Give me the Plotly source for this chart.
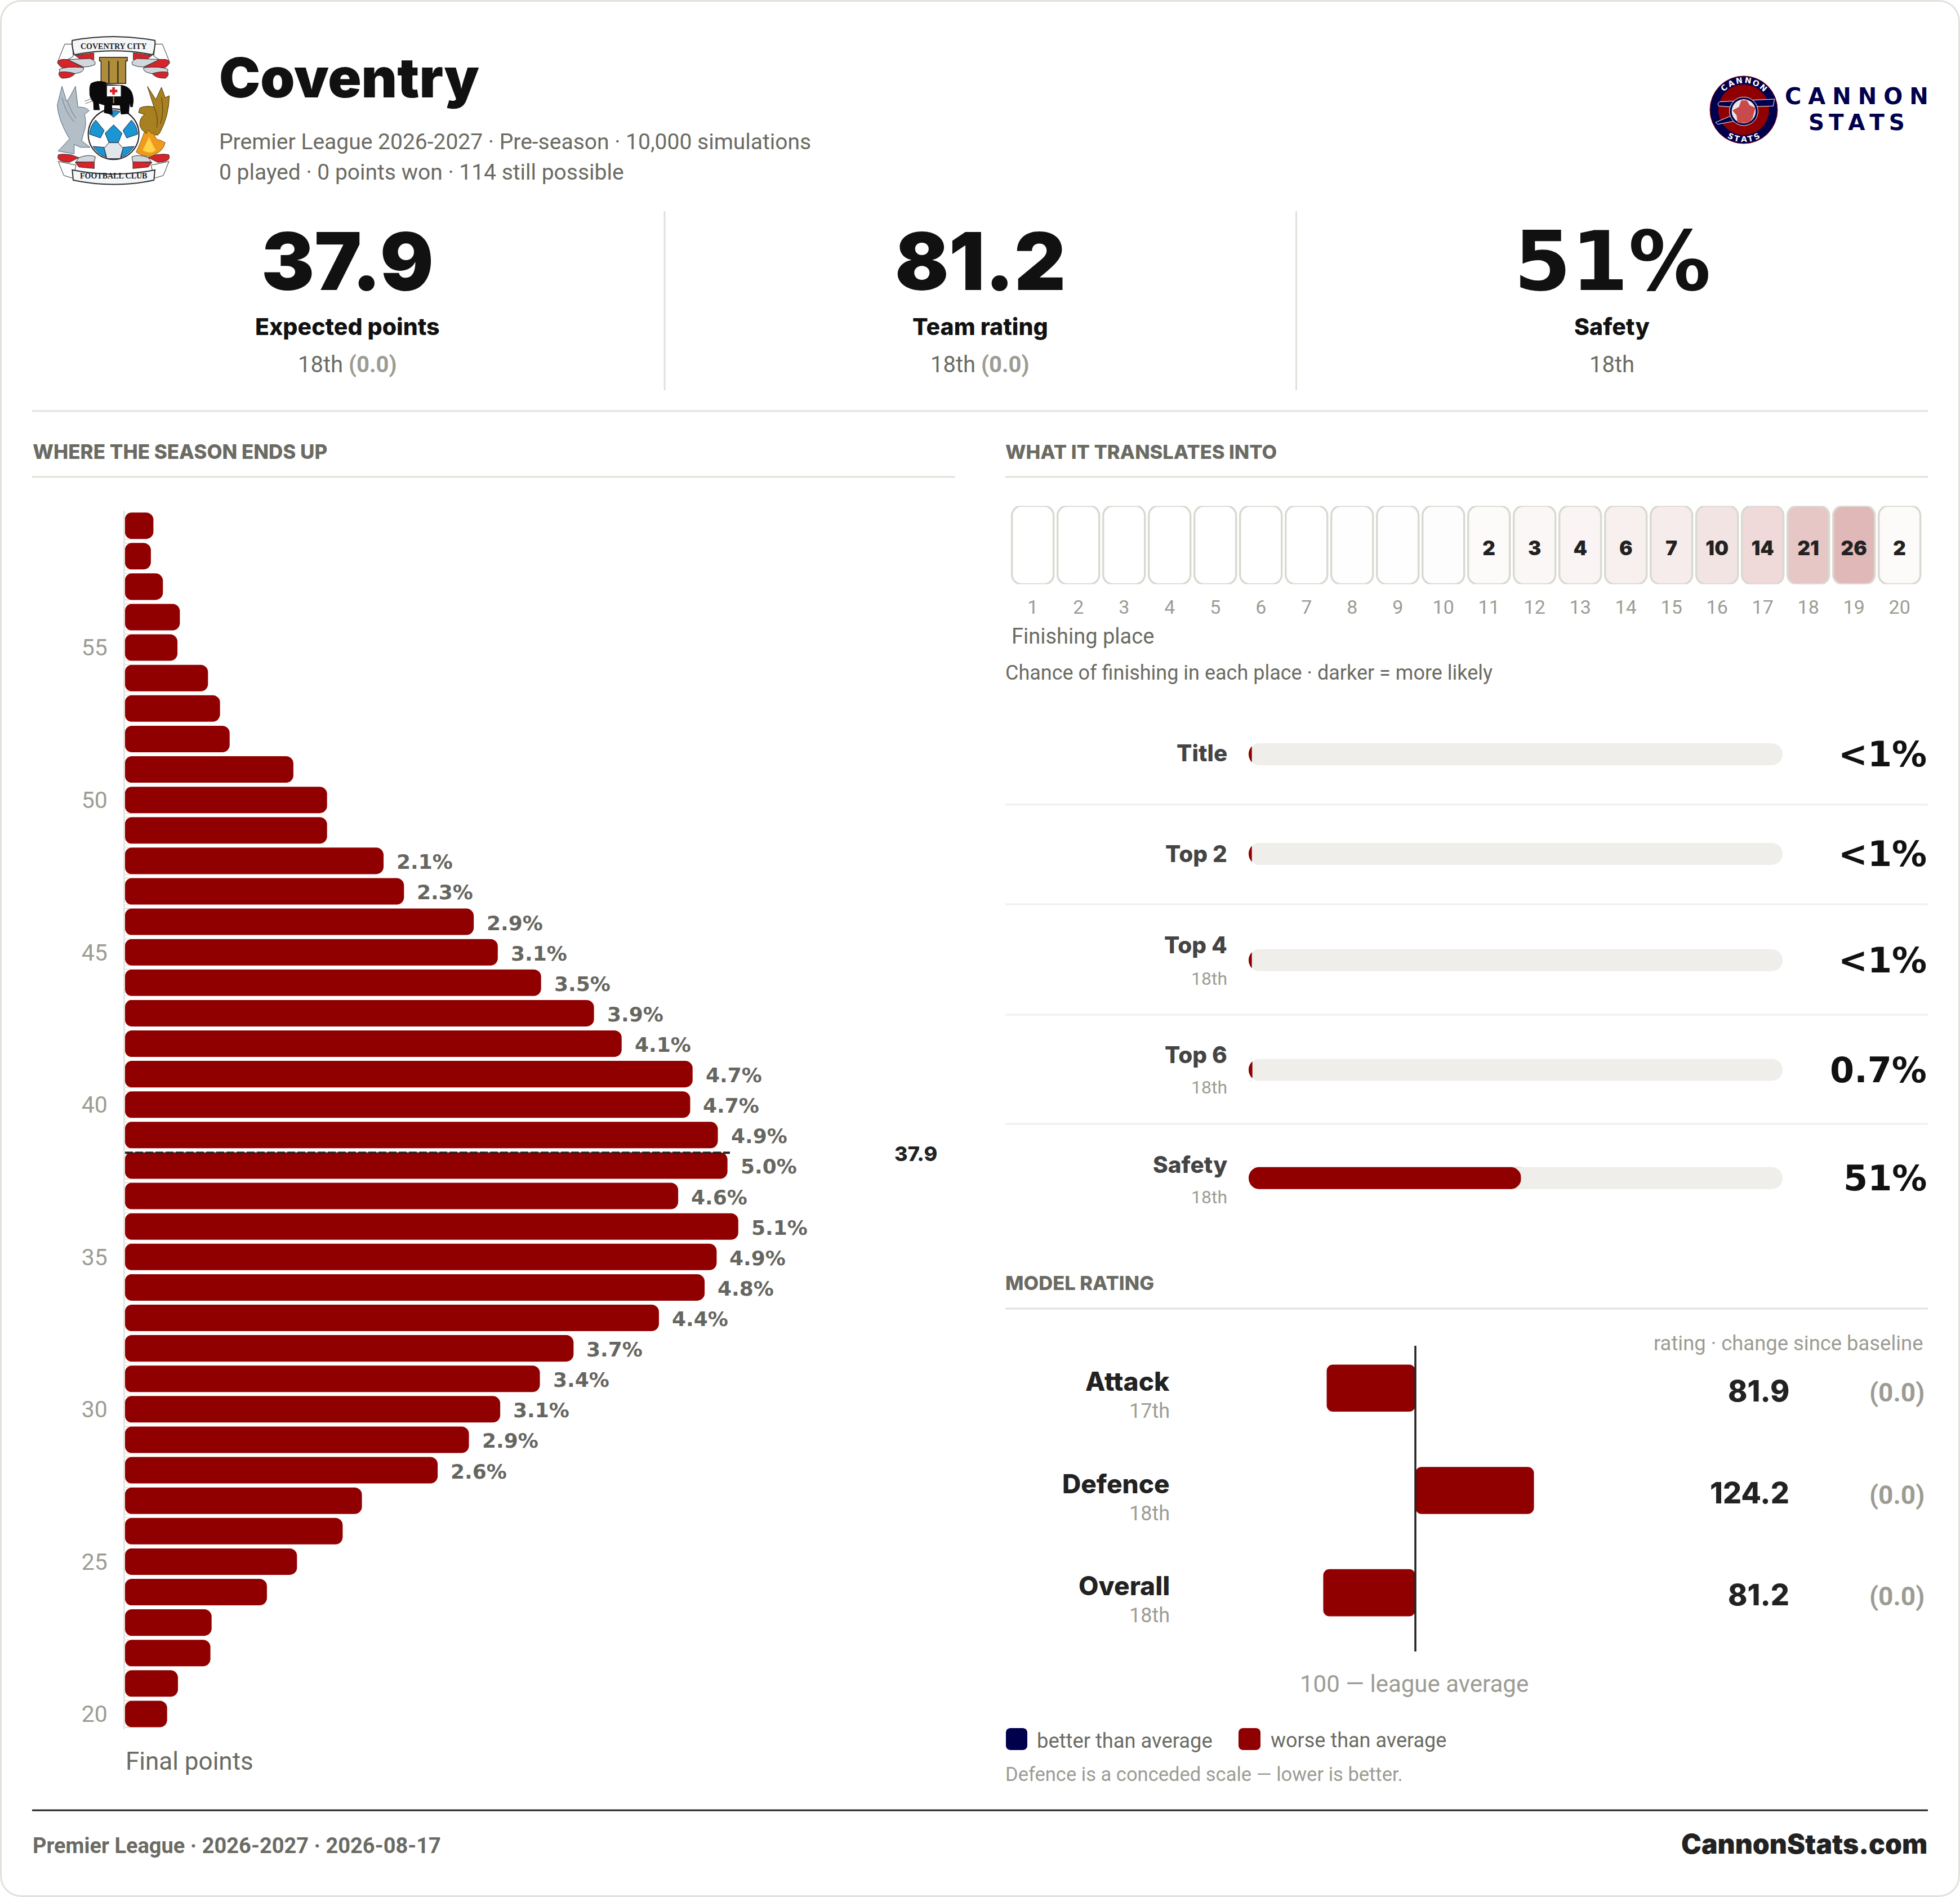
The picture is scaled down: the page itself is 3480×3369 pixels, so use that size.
import re
import math
import plotly.graph_objects as go

# ---------- data ----------
team = "Coventry"
points = list(range(59, 19, -1))
points_pct = [0.236, 0.215, 0.315, 0.456, 0.436, 0.69, 0.79, 0.87, 1.40, 1.68, 1.68, 2.15, 2.32, 2.90, 3.10, 3.46,
              3.90, 4.13, 4.72, 4.70, 4.93, 5.01, 4.60, 5.10, 4.92, 4.82, 4.44, 3.73, 3.45, 3.12, 2.86, 2.60,
              1.97, 1.81, 1.43, 1.18, 0.72, 0.71, 0.44, 0.35]
points_labels = [None] * 11 + ["2.1%", "2.3%", "2.9%", "3.1%", "3.5%", "3.9%", "4.1%", "4.7%", "4.7%", "4.9%", "5.0%",
                               "4.6%", "5.1%", "4.9%", "4.8%", "4.4%", "3.7%", "3.4%", "3.1%", "2.9%", "2.6%"] + [None] * 8
point_ticks = [20, 25, 30, 35, 40, 45, 50, 55]
expected_label = "37.9"

places = list(range(1, 21))
place_values = [0, 0, 0, 0, 0, 0, 0, 0.2, 0.4, 0.7, 2, 3, 4, 6, 7, 10, 14, 21, 26, 2]
place_labels = ["", "", "", "", "", "", "", "", "", "", "2", "3", "4", "6", "7", "10", "14", "21", "26", "2"]

prob_names = ["Title", "Top 2", "Top 4", "Top 6", "Safety"]
prob_ranks = ["", "", "18th", "18th", "18th"]
prob_values = [0.6, 0.6, 0.6, 0.7, 51]
prob_texts = ["<1%", "<1%", "<1%", "0.7%", "51%"]

rating_names = ["Attack", "Defence", "Overall"]
rating_ranks = ["17th", "18th", "18th"]
rating_values = [81.9, 124.2, 81.2]
rating_changes = ["(0.0)", "(0.0)", "(0.0)"]

stat_values = ["37.9", "81.2", "51%"]
stat_names = ["Expected points", "Team rating", "Safety"]
stat_subs = ["18th", "18th", "18th"]
stat_changes = ["(0.0)", "(0.0)", ""]

# ---------- layout constants ----------
W, H = 3480, 3369
HEAVY = "Inter"
WIDE = "DejaVu Sans"
BODY = "Roboto"
RED = "#910000"
NAVY = "#00004d"
INK = "#111111"
DARK = "#222222"
MID = "#6b6b63"
SOFT = "#9c9c94"
RULE = "#e2e2dc"
TRACK = "#efeeea"
mean_line_pos = 38.42

def px(x, y):
    return f"{x / W:.6f},{1 - y / H:.6f}"

def dom_x(a, b):
    return [a / W, b / W]

def dom_y(top, bottom):
    return [1 - bottom / H, 1 - top / H]

shapes = []
annotations = []

def T(x, y, text, size, color=MID, anchor="left", weight=400, family=BODY, angle=0):
    annotations.append(dict(xref="paper", yref="paper", x=x / W, y=1 - y / H, text=text, showarrow=False,
                            xanchor=anchor, yanchor="middle", textangle=angle, borderpad=0,
                            font=dict(family=family, size=size, color=color, weight=weight)))

def line(x0, y0, x1, y1, color=RULE, width=3):
    shapes.append(dict(type="line", xref="paper", yref="paper", x0=x0 / W, x1=x1 / W, y0=1 - y0 / H, y1=1 - y1 / H,
                       line=dict(color=color, width=width)))

def path(d, fill="rgba(0,0,0,0)", stroke=None, width=0, layer="above", ox=0, oy=0, s=1 / 3, mirror=None):
    def rep(m):
        x, y = float(m.group(1)), float(m.group(2))
        if mirror is not None:
            x = mirror - x
        return px(ox + x * s, oy + y * s)
    shapes.append(dict(type="path", xref="paper", yref="paper", layer=layer,
                       path=re.sub(r"(-?\d+(?:\.\d+)?),(-?\d+(?:\.\d+)?)", rep, d), fillcolor=fill,
                       line=dict(color=stroke if stroke else "rgba(0,0,0,0)", width=width)))

def rrect(x0, y0, x1, y1, r):
    k = r * 0.45
    return (f"M{x0 + r},{y0} L{x1 - r},{y0} C{x1 - k},{y0} {x1},{y0 + k} {x1},{y0 + r} L{x1},{y1 - r} "
            f"C{x1},{y1 - k} {x1 - k},{y1} {x1 - r},{y1} L{x0 + r},{y1} C{x0 + k},{y1} {x0},{y1 - k} {x0},{y1 - r} "
            f"L{x0},{y0 + r} C{x0},{y0 + k} {x0 + k},{y0} {x0 + r},{y0} Z")

def corner_masks(x, top, bottom, r, side=1):
    """corner wedges: side=1 rounds the left end of a bar starting at x, side=-1 the right end"""
    k = r * 0.45
    s = side
    return (f"M{x},{top} L{x + s * r},{top} C{x + s * k},{top} {x},{top + k} {x},{top + r} Z "
            f"M{x},{bottom} L{x + s * r},{bottom} C{x + s * k},{bottom} {x},{bottom - k} {x},{bottom - r} Z ")

# ---------- card ----------
path(rrect(1.5, 1.5, W - 1.5, H - 1.5, 36), fill="#ffffff", stroke=RULE, width=3, layer="below", s=1)

# ---------- header ----------
T(388, 138, team, 98, INK, weight=900, family=HEAVY)
T(388, 252, "Premier League 2026-2027 · Pre-season · 10,000 simulations", 39, MID)
T(388, 306, "0 played · 0 points won · 114 still possible", 39, MID)

# crest (drawn as vector shapes)
cx, cy = 60, 40
def C(d, fill, stroke="#333333", width=1, mirror=None):
    path(d, fill=fill, stroke=stroke, width=width, ox=cx, oy=cy, mirror=mirror)
for m in (None, 850):
    C("M205,115 L165,115 L125,215 L135,225 L210,180 Z", "#ffffff", mirror=m)
    C("M130,740 L160,815 L210,830 L225,760 Z", "#ffffff", mirror=m)
    C("M220,175 L320,162 L320,198 L250,198 Z", "#d8232a", mirror=m)
    C("M180,197 L300,192 Q335,205 325,225 Q300,237 265,237 Z", "#cfd8dd", mirror=m)
    C("M130,205 Q140,193 180,197 L265,240 Q240,250 200,240 L150,240 Q125,225 130,205 Z", "#d8232a", mirror=m)
    C("M135,250 Q170,232 265,240 Q272,265 220,272 L140,268 Z", "#cfd8dd", mirror=m)
    C("M135,265 Q175,258 220,272 Q200,298 150,297 Q128,285 135,265 Z", "#d8232a", mirror=m)
    C("M240,720 Q290,700 328,715 L322,745 L225,742 Z", "#cfd8dd", mirror=m)
    C("M130,705 Q150,698 200,705 L240,720 L190,745 Q130,742 128,720 Z", "#d8232a", mirror=m)
    C("M220,745 L322,742 L322,778 L240,770 Z", "#d8232a", mirror=m)
C("M205,95 Q425,55 645,95 C650,120 640,150 635,172 Q425,130 215,172 C210,150 200,120 205,95 Z", "#f4f6f7", width=2)
C("M205,785 Q425,830 645,785 L640,840 Q425,885 210,840 Z", "#f4f6f7", width=2)
C("M350,185 L498,185 L498,205 L490,205 L490,325 L358,325 L358,205 L350,205 Z", "#b08d3a", "#222222", 1.5)
C("M400,205 L400,325 M448,205 L448,325", "rgba(0,0,0,0)", "#222222", 2)
C("M150,340 L175,420 L190,400 L222,340 L235,450 Q280,450 295,470 L270,490 Q285,540 265,590 L255,630 L300,665 L250,665 "
  "L215,650 L215,700 L130,685 L190,620 Q130,520 125,440 Z", "#b3bec6", "#556677", 1)
C("M605,340 L650,410 L680,345 L700,400 L722,390 Q720,500 670,590 L660,600 Q580,600 565,550 Q560,510 590,490 L558,480 "
  "L565,455 Q600,440 640,450 Z", "#a9801f", "#4a3a10", 1)
C("M150,400 Q170,480 215,530 M180,420 Q195,470 225,510", "rgba(0,0,0,0)", "#667788", 1)
C("M640,450 Q665,500 655,560 M680,400 Q695,470 675,540", "rgba(0,0,0,0)", "#4a3a10", 1)
C("M545,690 Q570,640 590,580 Q600,610 610,570 Q625,600 640,590 Q650,630 670,625 L700,640 Q690,690 620,715 Q570,710 545,690 Z",
  "#ee9a1c", "#8a5a10", 1)
C("M580,680 Q600,640 615,610 Q630,650 650,680 Q620,705 580,680 Z", "#ffd34a", None, 0)
shapes.append(dict(type="circle", xref="paper", yref="paper", layer="above",
                   x0=(cx + 290 / 3) / W, x1=(cx + 560 / 3) / W, y0=1 - (cy + 730 / 3) / H, y1=1 - (cy + 460 / 3) / H,
                   fillcolor="#ffffff", line=dict(color="#222222", width=2)))
BLUE = "#1a96d4"
C("M425,545 L470,590 L450,640 L400,640 L380,590 Z", BLUE, "#222233", 1)
C("M395,480 Q425,460 460,475 L425,505 Z", BLUE, "#222233", 1)
C("M330,520 L375,575 L355,615 L297,595 Q300,550 330,520 Z", BLUE, "#222233", 1)
C("M520,520 L475,575 L495,615 L553,595 Q550,550 520,520 Z", BLUE, "#222233", 1)
C("M315,660 L375,665 L385,718 Q340,700 315,660 Z", BLUE, "#222233", 1)
C("M535,660 L475,665 L465,718 Q510,700 535,660 Z", BLUE, "#222233", 1)
C("M400,640 L450,640 L475,670 L460,725 L390,725 L375,670 Z", "#e0e6ea", "#222233", 1)
C("M305,325 Q340,305 385,320 L385,330 L470,335 Q530,345 530,420 L525,450 L515,448 L510,420 L505,485 L465,488 L460,440 "
  "L415,440 L418,490 L375,480 L378,440 L345,430 L350,465 L320,465 L318,425 Q296,400 298,370 Q296,340 305,325 Z",
  "#0a0a0a", "#000000", 1)
C("M270,420 L310,405 M275,432 L315,418", "rgba(0,0,0,0)", "#666666", 1)
C("M388,335 L465,335 L465,395 L388,395 Z", "#ffffff", "#222222", 1)
C("M425,395 L425,430", "rgba(0,0,0,0)", "#b08d3a", 2)
C("M418,345 L432,345 L432,358 L445,358 L445,372 L432,372 L432,385 L418,385 L418,372 L405,372 L405,358 L418,358 Z", "#d8232a", None, 0)
T(cx + 425 / 3, cy + 127 / 3, "<b>COVENTRY CITY</b>", 14, "#222222", "center", family="Liberation Serif")
T(cx + 425 / 3, cy + 818 / 3, "<b>FOOTBALL CLUB</b>", 14, "#222222", "center", family="Liberation Serif")

# Cannon Stats logo
lx, ly = 3000, 110
def L(d, fill, stroke=None, width=0):
    path(d, fill=fill, stroke=stroke, width=width, ox=lx, oy=ly)
def disc(zx, zy, zr, fill, stroke=None, width=0):
    shapes.append(dict(type="circle", xref="paper", yref="paper", layer="above",
                       x0=(lx + (zx - zr) / 3) / W, x1=(lx + (zx + zr) / 3) / W,
                       y0=1 - (ly + (zy + zr) / 3) / H, y1=1 - (ly + (zy - zr) / 3) / H,
                       fillcolor=fill, line=dict(color=stroke or "rgba(0,0,0,0)", width=width)))
disc(288, 255, 180, NAVY, RED, 1)
disc(288, 255, 135, RED)
L("M160,212 L452,198 L445,235 L340,238 L230,240 L155,235 Q145,222 160,212 Z", NAVY, "#ffffff", 1)
L("M138,322 L225,285 L240,315 L150,332 Z", NAVY, "#ffffff", 1)
disc(288, 263, 76, NAVY, "#ffffff", 1)
disc(288, 263, 64, "#e8e8ea")
L("M275,205 L305,205 L320,230 L350,245 L335,300 L315,325 L255,325 L250,285 L228,258 L262,240 Z", "#c94a4a")
for letters, zr, a0, a1 in (("CANNON", 157, -42, 42), ("STATS", 157, 26, -26)):
    n = len(letters)
    for i, ch in enumerate(letters):
        a = a0 + (a1 - a0) * i / (n - 1)
        if a0 < 0:
            zx, zy = 288 + zr * math.sin(math.radians(a)), 255 - zr * math.cos(math.radians(a))
            rot = a
        else:
            zx, zy = 288 + zr * math.sin(math.radians(a)), 255 + zr * math.cos(math.radians(a))
            rot = -a
        T(lx + zx / 3, ly + zy / 3, ch, 14, "#ffffff", "center", 700, WIDE, rot)
T(3296.7, 171, "\u200a\u2009".join("CANNON"), 40, NAVY, "center", 700, WIDE)
T(3296.7, 217, "\u2009".join("STATS"), 39, NAVY, "center", 700, WIDE)

# ---------- headline stats ----------
line(1180, 375, 1180, 693)
line(2301.5, 375, 2301.5, 693)
line(57, 730, 3423, 730)
for xc, v, n, s, c in zip((617, 1740, 2862), stat_values, stat_names, stat_subs, stat_changes):
    if "%" in v:
        T(xc, 464, v, 146, INK, "center", 700, WIDE)
    else:
        T(xc, 464, v, 141, INK, "center", 900, HEAVY)
    T(xc, 580, n, 41, INK, "center", 800, HEAVY)
    extra = f' <b style="color:{SOFT}">{c}</b>' if c else ""
    T(xc, 647, s + extra, 40, MID, "center")

# ---------- section heads ----------
T(57, 802, "WHERE THE SEASON ENDS UP", 35, MID, weight=800, family=HEAVY)
T(1784, 802, "WHAT IT TRANSLATES INTO", 34.5, MID, weight=800, family=HEAVY)
line(57, 847, 1696, 847)
line(1785, 847, 3423, 847)
T(1784, 2278, "MODEL RATING", 34.5, MID, weight=800, family=HEAVY)
line(1785, 2324, 3423, 2324)

# ---------- histogram ----------
traces = []
traces.append(go.Bar(orientation="h", y=points, x=points_pct, width=0.869, marker=dict(color=RED, line=dict(width=0), cornerradius=13),
                     xaxis="x", yaxis="y", hoverinfo="skip", showlegend=False))
PITCH = 54.11
hist_mask = ""
for p in points:
    yc = 3044 - (p - 20) * PITCH
    hist_mask += corner_masks(222, yc - 23.6, yc + 23.6, 12)
path(hist_mask, fill="#ffffff", s=1)
for p, v, lab in zip(points, points_pct, points_labels):
    if lab:
        annotations.append(dict(xref="x", yref="y", x=v, y=p, text=lab, showarrow=False, xanchor="left", yanchor="middle",
                                xshift=22, yshift=-2, borderpad=0, font=dict(family=WIDE, size=36, color="#666660", weight=700)))
shapes.append(dict(type="line", xref="x", yref="y", x0=0, x1=5.03, y0=mean_line_pos, y1=mean_line_pos,
                   line=dict(color=DARK, width=4, dash="14px,4px")))
T(1626, 2049, expected_label, 36, DARK, "center", 800, HEAVY)
T(222, 3128, "Final points", 44, MID)

# ---------- finishing place ----------
CELL_PITCH = 81.0
cell_h_px = 138.7
rx, ry = 17 / CELL_PITCH, 17 / cell_h_px
half = 74 / CELL_PITCH / 2
for pl, v in zip(places, place_values):
    a = v * 1.07 / 100
    x0, x1 = pl - half, pl + half
    k = 0.45
    d = (f"M{x0 + rx:.4f},0 L{x1 - rx:.4f},0 C{x1 - k * rx:.4f},0 {x1:.4f},{k * ry:.4f} {x1:.4f},{ry:.4f} L{x1:.4f},{1 - ry:.4f} "
         f"C{x1:.4f},{1 - k * ry:.4f} {x1 - k * rx:.4f},1 {x1 - rx:.4f},1 L{x0 + rx:.4f},1 C{x0 + k * rx:.4f},1 {x0:.4f},{1 - k * ry:.4f} "
         f"{x0:.4f},{1 - ry:.4f} L{x0:.4f},{ry:.4f} C{x0:.4f},{k * ry:.4f} {x0 + k * rx:.4f},0 {x0 + rx:.4f},0 Z")
    shapes.append(dict(type="path", xref="x2", yref="y2", path=d, layer="below",
                       fillcolor=f"rgba(146,0,0,{a:.4f})", line=dict(color="#d9d9d2", width=3.5)))
traces.append(go.Scatter(x=places, y=[0.435] * 20, mode="text", text=place_labels, textposition="middle center",
                         textfont=dict(family=HEAVY, size=35, color=DARK, weight=900),
                         xaxis="x2", yaxis="y2", hoverinfo="skip", showlegend=False))
T(1795, 1130, "Finishing place", 38, MID)
T(1784, 1195, "Chance of finishing in each place · darker = more likely", 36, MID)

# ---------- probability bars ----------
prob_rows = [1339.5, 1516.5, 1705.3, 1900, 2092.3]
traces.append(go.Bar(orientation="h", y=prob_rows, x=[100] * 5, width=39, marker=dict(color=TRACK, line=dict(width=0), cornerradius=19.5),
                     xaxis="x3", yaxis="y3", hoverinfo="skip", showlegend=False))
traces.append(go.Bar(orientation="h", y=prob_rows, x=prob_values, width=39, marker=dict(color=RED, line=dict(width=0)),
                     xaxis="x3", yaxis="y3", hoverinfo="skip", showlegend=False))
pmask = ""
endmask = ""
for r, v in zip(prob_rows, prob_values):
    pmask += corner_masks(2217, r - 19.7, r + 19.7, 19.5)
    if v >= 5:
        endmask += corner_masks(2217 + 948 * v / 100 + 0.5, r - 19.7, r + 19.7, 19.5, -1)
path(endmask, fill=TRACK, s=1)
path(pmask, fill="#ffffff", s=1)
name_y = [1337, 1516, 1678, 1873, 2068]
rank_y = [None, None, 1738, 1931, 2126]
for nm, rk, ny, ry_, txt, r in zip(prob_names, prob_ranks, name_y, rank_y, prob_texts, prob_rows):
    T(2180, ny, nm, 40.5, "#444444", "right", 800, HEAVY)
    if rk:
        T(2180, ry_, rk, 32, SOFT, "right")
    T(3422, r, txt, 62, INK, "right", 700, WIDE)
for y in (1429, 1606, 1802, 1996):
    line(1785, y, 3423, y, "#efefec", 3)

# ---------- model rating ----------
rating_delta = [v - 100 for v in rating_values]
traces.append(go.Bar(orientation="h", y=rating_names, x=rating_delta, base=[100] * 3, width=0.46,
                     marker=dict(color=RED, line=dict(width=0), cornerradius=11),
                     xaxis="x4", yaxis="y4", hoverinfo="skip", showlegend=False))
shapes.append(dict(type="line", xref="x4", yref="paper", x0=100, x1=100, y0=1 - 2390 / H, y1=1 - 2933 / H,
                   line=dict(color=DARK, width=3.5)))
T(3416, 2385, "rating · change since baseline", 36.4, SOFT, "right")
for nm, rk, ly_, sy, vy, cy_, v, c in zip(rating_names, rating_ranks, (2453, 2635, 2816), (2506, 2688, 2869),
                                          (2470, 2651, 2832), (2473, 2655, 2835), rating_values, rating_changes):
    T(2078, ly_, nm, 46, DARK, "right", 800, HEAVY)
    T(2078, sy, rk, 36, SOFT, "right")
    T(3178, vy, f"{v:.1f}", 52, DARK, "right", 800, HEAVY)
    T(3418, cy_, c, 46, SOFT, "right", 700)
T(2511, 2990, "100 — league average", 42, SOFT, "center")
path(rrect(1786, 3069, 1824, 3108, 8), fill=NAVY, s=1)
T(1840, 3091, "better than average", 36.3, MID)
path(rrect(2199, 3069, 2238, 3108, 8), fill=RED, s=1)
T(2255, 3091, "worse than average", 36, MID)
T(1784, 3151, "Defence is a conceded scale — lower is better.", 34.5, SOFT)

# ---------- footer ----------
line(57, 3215, 3423, 3215, DARK, 3)
T(57, 3278, "Premier League · 2026-2027 · 2026-08-17", 38, MID, weight=700)
T(3423, 3274, "CannonStats.com", 48, DARK, "right", 900, HEAVY)

# ---------- figure ----------
hidden = dict(visible=False, fixedrange=True)
fig = go.Figure(traces)
fig.update_layout(
    width=W, height=H, margin=dict(l=0, r=0, t=0, b=0), paper_bgcolor="#ffffff", plot_bgcolor="rgba(0,0,0,0)",
    barmode="overlay", showlegend=False, shapes=shapes, annotations=annotations, font=dict(family=BODY),
    xaxis=dict(domain=dom_x(222, 1640), range=[0, 1418 / 213.5], **hidden),
    yaxis=dict(domain=dom_y(906.6, 3071), range=[19.5, 59.5], anchor="x", tickvals=point_ticks, showgrid=False, zeroline=False,
               showline=True, linecolor="#e5e5e0", linewidth=3, ticks="outside", ticklen=20, tickcolor="rgba(0,0,0,0)",
               tickfont=dict(family=BODY, size=41, color=SOFT)),
    xaxis2=dict(domain=dom_x(1793.2, 3413.2), range=[0.5, 20.5], anchor="y2", tickvals=places, showgrid=False, zeroline=False,
                showline=False, ticks="outside", ticklen=11, tickcolor="rgba(0,0,0,0)", tickfont=dict(family=BODY, size=34, color=SOFT)),
    yaxis2=dict(domain=dom_y(898.5, 1037.5), range=[0, 1], anchor="x2", **hidden),
    xaxis3=dict(domain=dom_x(2217, 3165), range=[0, 100], anchor="y3", **hidden),
    yaxis3=dict(domain=dom_y(1300, 2130), range=[2130, 1300], anchor="x3", **hidden),
    xaxis4=dict(domain=dom_x(2000, 3026), range=[100 - 513 / 8.7, 100 + 513 / 8.7], anchor="y4", **hidden),
    yaxis4=dict(domain=dom_y(2374.4, 2919.5), categoryorder="array", categoryarray=rating_names[::-1], anchor="x4", **hidden),
)
fig.write_html("out.html", config=dict(displayModeBar=False), post_script="document.body.style.margin='0';")
